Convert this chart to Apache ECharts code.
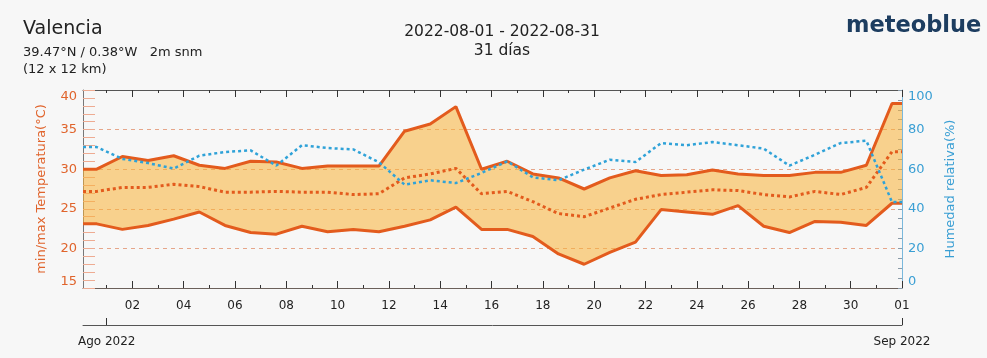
<!DOCTYPE html>
<html><head><meta charset="utf-8">
<script src="https://cdn.jsdelivr.net/npm/echarts@6/dist/echarts.min.js"></script>
<style>html,body{margin:0;padding:0;background:#f7f7f7}#c{width:987px;height:358px}</style>
</head><body><div id="c"></div>
<script>
// Day of August for each daily value (0 = 31 Jul), plotted at the daily sample time
const days = [0,1,2,3,4,5,6,7,8,9,10,11,12,13,14,15,16,17,18,19,20,21,22,23,24,25,26,27,28,29,30,31];
const sampleFraction = 0.61;
const tempMax = [30.0,31.6,31.1,31.7,30.5,30.1,31.0,30.9,30.1,30.4,30.4,30.4,34.8,35.7,37.9,30.0,31.0,29.4,28.9,27.5,28.9,29.8,29.2,29.3,29.9,29.4,29.2,29.2,29.6,29.6,30.5,38.3];
const tempMin = [23.1,22.4,22.9,23.7,24.6,22.9,22.0,21.8,22.8,22.1,22.4,22.1,22.8,23.6,25.2,22.4,22.4,21.5,19.3,18.0,19.5,20.8,24.9,24.6,24.3,25.4,22.8,22.0,23.4,23.3,22.9,25.7];
const tempMean = [27.2,27.7,27.7,28.1,27.8,27.1,27.1,27.2,27.1,27.1,26.8,26.9,28.9,29.4,30.1,26.9,27.2,25.9,24.4,24.0,25.1,26.2,26.8,27.1,27.4,27.3,26.8,26.5,27.2,26.8,27.7,32.2];
const humidity = [71.2,65.2,63.1,60.3,66.8,68.7,69.5,61.8,72.1,70.7,70.0,63.5,52.2,54.4,53.0,58.1,64.0,55.9,54.4,59.8,64.8,63.6,73.2,72.1,73.7,72.1,70.4,61.8,67.3,73.2,74.4,43.4];
const majorDays = [2,4,6,8,10,12,14,16,18,20,22,24,26,28,30,32];
const minorDays = [1,3,5,7,9,11,13,15,17,19,21,23,25,27,29,31];
const dayLabels = ['02','04','06','08','10','12','14','16','18','20','22','24','26','28','30','01'];
const monthTicks = [1,32];
const monthLabels = ['Ago 2022','Sep 2022'];
const xMin = 0.075, xMax = 32;

const FONT = 'DejaVu Sans';
const ORANGE = '#e35b1d';
const BLUE = '#2fa2d8';

function pts(vals){
  const a = vals.map((v,i)=>[days[i]+sampleFraction, v]);
  return [[xMin, vals[0]], ...a, [xMax, vals[vals.length-1]]];
}
const maxPts = pts(tempMax), minPts = pts(tempMin);

function xAx(pos, ticks, len, opts){
  return Object.assign({
    type:'value', min:xMin, max:xMax, position:pos, gridIndex:0,
    axisLine:{show:false},
    axisTick:{show:true, inside:true, length:len, customValues:ticks, lineStyle:{color:'#333', width:1}},
    axisLabel:{show:false},
    splitLine:{show:false}
  }, opts||{});
}

const chart = echarts.init(document.getElementById('c'), null, {renderer:'canvas'});
chart.setOption({
  backgroundColor:'#f7f7f7',
  animation:false,
  textStyle:{fontFamily:FONT},
  grid:{left:83, right:85, top:90, bottom:70, containLabel:false},
  graphic:[
    {type:'text', left:23, top:20, style:{text:'Valencia', fontSize:19, fontFamily:FONT, fill:'#222'}},
    {type:'text', left:23, top:46, style:{text:'39.47°N / 0.38°W   2m snm', fontSize:13, fontFamily:FONT, fill:'#222'}},
    {type:'text', left:23, top:63, style:{text:'(12 x 12 km)', fontSize:13, fontFamily:FONT, fill:'#222'}},
    {type:'text', x:502, y:24, style:{text:'2022-08-01 - 2022-08-31', fontSize:15.5, fontFamily:FONT, fill:'#222', align:'center'}},
    {type:'text', x:502, y:43, style:{text:'31 días', fontSize:15.5, fontFamily:FONT, fill:'#222', align:'center'}},
    {type:'text', left:846, top:15, style:{text:'meteoblue', fontSize:22.5, fontWeight:'bold', fontFamily:FONT, fill:'#1d3d60'}}
  ],
  xAxis:[
    xAx('bottom', majorDays, 7, {
      axisLine:{show:true, lineStyle:{color:'#6b605a', width:1}},
      axisLabel:{show:true, customValues:majorDays, margin:12, fontSize:12, color:'#222', fontFamily:FONT,
        formatter:(v)=>dayLabels[majorDays.indexOf(Math.round(v))] || ''}
    }),
    xAx('bottom', minorDays, 3),
    xAx('top', majorDays, 7, {axisLine:{show:true, lineStyle:{color:'#555', width:1}}}),
    xAx('top', minorDays, 3),
    xAx('bottom', monthTicks, 7, {
      offset:37,
      axisLine:{show:true, lineStyle:{color:'#555', width:1}},
      axisTick:{show:true, inside:true, length:7, customValues:monthTicks, lineStyle:{color:'#333'}},
      axisLabel:{show:true, customValues:monthTicks, margin:11, fontSize:12, color:'#222', fontFamily:FONT,
        formatter:(v)=>monthLabels[monthTicks.indexOf(Math.round(v))] || ''}
    })
  ],
  yAxis:[
    {type:'value', min:15, max:40, interval:5, position:'left',
     name:'min/max Temperatura(°C)', nameLocation:'middle', nameGap:35,
     nameTextStyle:{color:'#e0642c', fontSize:13, fontFamily:FONT},
     axisLine:{show:true, lineStyle:{color:'#777'}},
     axisTick:{show:true, inside:true, length:12, lineStyle:{color:'#eeab92'}},
     minorTick:{show:true, splitNumber:5, length:12, lineStyle:{color:'#eeab92'}},
     axisLabel:{color:'#e0642c', fontSize:13, margin:6, fontFamily:FONT,
       verticalAlignMaxLabel:'top', verticalAlignMinLabel:'bottom'},
     splitLine:{show:true, lineStyle:{color:'#e6a68a', type:[4,4], width:1}}
    },
    {type:'value', min:0, max:100, interval:20, position:'right',
     name:'Humedad relativa(%)', nameLocation:'middle', nameGap:34,
     nameTextStyle:{color:'#3a9fd4', fontSize:13, fontFamily:FONT},
     axisLine:{show:true, lineStyle:{color:'#7ab8dc'}},
     axisTick:{show:true, inside:true, length:4, lineStyle:{color:'#8a9aa8'}},
     minorTick:{show:true, splitNumber:4, length:4, lineStyle:{color:'#8a9aa8'}},
     axisLabel:{color:'#3a9fd4', fontSize:13, margin:6, fontFamily:FONT,
       verticalAlignMaxLabel:'top', verticalAlignMinLabel:'bottom'},
     splitLine:{show:false}
    }
  ],
  series:[
    {type:'custom', name:'band', xAxisIndex:0, yAxisIndex:0, silent:true, z:1, clip:true,
     data:[[xMin, 15]],
     renderItem:function(params, api){
       const top = maxPts.map(p=>api.coord(p));
       const bot = minPts.map(p=>api.coord(p)).reverse();
       return {type:'polygon', shape:{points: top.concat(bot)}, style:{fill:'rgba(250,178,55,0.55)'}};
     }},
    {type:'line', name:'max', data:maxPts, symbol:'none', lineStyle:{color:ORANGE, width:3}, z:3},
    {type:'line', name:'min', data:minPts, symbol:'none', lineStyle:{color:ORANGE, width:3}, z:3},
    {type:'line', name:'mean', data:pts(tempMean), symbol:'none', lineStyle:{color:ORANGE, width:3, type:[3,3]}, z:3},
    {type:'line', name:'humidity', yAxisIndex:1, data:pts(humidity), symbol:'none', lineStyle:{color:BLUE, width:2.5, type:[3,3]}, z:4}
  ]
});
</script>
</body></html>
